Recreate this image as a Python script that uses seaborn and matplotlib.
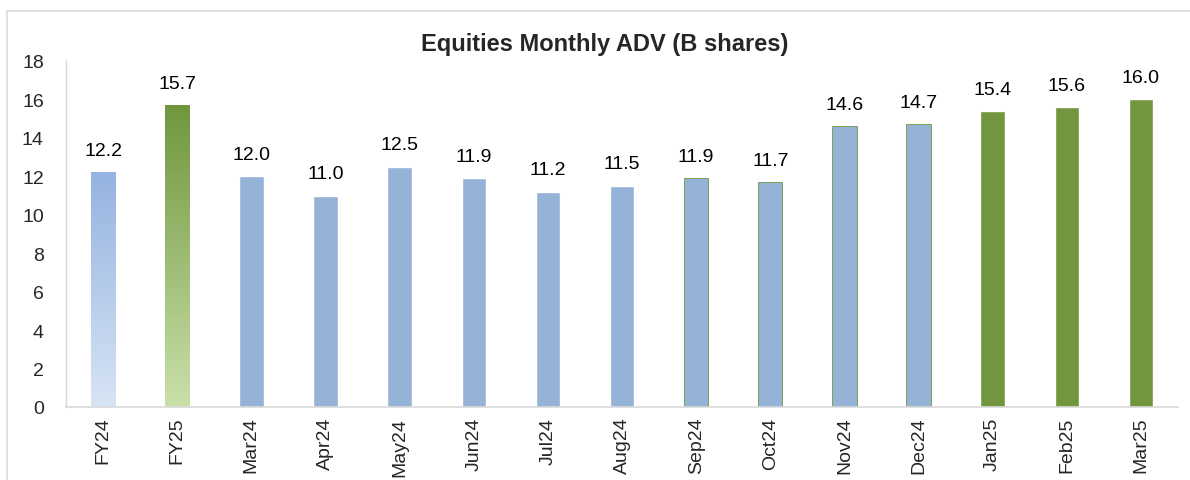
"""
Equities Monthly ADV (B shares) - bar chart recreation.
"""
import matplotlib.pyplot as plt
import matplotlib.colors as mcolors
import numpy as np
import seaborn as sns
from matplotlib.patches import Rectangle

# -----------------------------------------------------------------
# Data
# -----------------------------------------------------------------
periods = ["FY24", "FY25", "Mar24", "Apr24", "May24", "Jun24", "Jul24", "Aug24",
           "Sep24", "Oct24", "Nov24", "Dec24", "Jan25", "Feb25", "Mar25"]
adv = [12.2, 15.7, 12.0, 11.0, 12.5, 11.9, 11.2, 11.5,
       11.9, 11.7, 14.6, 14.7, 15.4, 15.6, 16.0]
bar_colors = ["#95B3D7", "#71963D", "#95B3D7", "#95B3D7", "#95B3D7", "#95B3D7",
              "#95B3D7", "#95B3D7", "#95B3D7", "#95B3D7", "#95B3D7", "#95B3D7",
              "#71963D", "#71963D", "#71963D"]
# gradient fills (top colour, bottom colour) for the two full-year bars
gradients = {"FY24": ("#95B3E0", "#D7E4F5"), "FY25": ("#71963D", "#C9E0A9")}
green_edge = ["Sep24", "Oct24", "Nov24", "Dec24"]

sns.set_theme(style="white")
plt.rcParams["font.family"] = ["Liberation Sans", "DejaVu Sans"]

fig = plt.figure(figsize=(11.9, 4.81), dpi=100)
ax = fig.add_axes([66 / 1190, 1 - 408 / 481, (1178 - 66) / 1190, (408 - 62) / 481])

sns.barplot(x=periods, y=adv, hue=periods, palette=bar_colors, legend=False,
            width=0.33, saturation=1, ax=ax)

for bar, name in zip(ax.patches, periods):
    if name in green_edge:
        bar.set_edgecolor("#71963D")
        bar.set_linewidth(0.6)
    if name in gradients:
        top, bottom = gradients[name]
        cmap = mcolors.LinearSegmentedColormap.from_list(name, [bottom, top])
        x0, w, h = bar.get_x(), bar.get_width(), bar.get_height()
        grad = np.linspace(0, 1, 256).reshape(-1, 1)
        im = ax.imshow(grad, cmap=cmap, origin="lower", aspect="auto",
                       extent=[x0, x0 + w, 0, h], zorder=bar.get_zorder() + 0.1)
        im.set_clip_path(bar)

for bar, val in zip(ax.patches, adv):
    ax.text(bar.get_x() + bar.get_width() / 2, val + 0.7, f"{val:.1f}",
            ha="center", va="bottom", fontsize=14, color="black")

ax.set_xlim(-0.5, len(periods) - 0.5)
ax.set_ylim(0, 18)
ax.set_yticks(range(0, 19, 2))
ax.tick_params(axis="y", labelsize=14, length=0, pad=16)
ax.tick_params(axis="x", labelsize=14, length=0, pad=7, rotation=90)
for lbl in ax.get_xticklabels():
    lbl.set_verticalalignment("top")

for side in ["top", "right"]:
    ax.spines[side].set_visible(False)
ax.spines["left"].set_color("#D9D9D9")
ax.spines["bottom"].set_color("#D9D9D9")
ax.spines["left"].set_linewidth(1.0)
ax.spines["bottom"].set_linewidth(1.2)

fig.text(605 / 1190, 1 - 45 / 481, "Equities Monthly ADV (B shares)",
         ha="center", va="center", fontsize=17, fontweight="bold")

# outer chart-area frame
fig.patches.append(Rectangle((7 / 1190, -0.01), 1.02, 1 - 12 / 481 + 0.01,
                             transform=fig.transFigure, fill=False,
                             edgecolor="#D9D9D9", linewidth=1.2))

plt.savefig("out.png", dpi=100)
plt.close()
